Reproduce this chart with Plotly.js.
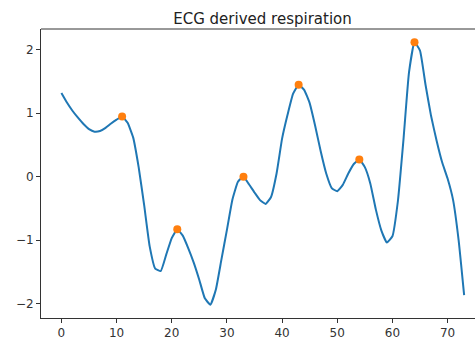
<!DOCTYPE html>
<html>
<head>
<meta charset="utf-8">
<script src="https://cdn.plot.ly/plotly-3.0.1.min.js"></script>
<style>
html, body { margin: 0; padding: 0; overflow: hidden; background: #fff; width: 475px; height: 344px; }
#chart { width: 490px; height: 344px; }
</style>
</head>
<body>
<div id="chart"></div>
<script>
// Sample index (0..73) and respiration signal values
var sampleIdx = [];
for (var i = 0; i <= 73; i++) sampleIdx.push(i);
var respValues = [
  1.32, 1.17, 1.04, 0.93, 0.83, 0.75, 0.71, 0.72, 0.77, 0.84,
  0.90, 0.95, 0.85, 0.62, 0.15, -0.45, -1.10, -1.45, -1.49, -1.23,
  -0.97, -0.83, -0.93, -1.13, -1.36, -1.63, -1.92, -2.02, -1.78, -1.31,
  -0.84, -0.36, -0.08, 0.00, -0.12, -0.25, -0.37, -0.43, -0.32, 0.05,
  0.60, 0.98, 1.31, 1.45, 1.37, 1.16, 0.80, 0.40, 0.05, -0.18,
  -0.23, -0.13, 0.05, 0.20, 0.27, 0.15, -0.11, -0.52, -0.85, -1.04,
  -0.94, -0.38, 0.58, 1.64, 2.12, 1.99, 1.45, 0.96, 0.57, 0.23,
  -0.03, -0.37, -1.00, -1.87
];
// Detected peak indices
var peakIdx = [11, 21, 33, 43, 54, 64];
var peakValues = peakIdx.map(function (k) { return respValues[k]; });

var xTicks = [0, 10, 20, 30, 40, 50, 60, 70];
var yTicks = [-2, -1, 0, 1, 2];

var traces = [
  {
    x: sampleIdx, y: respValues, type: 'scatter', mode: 'lines',
    line: { color: '#1f77b4', width: 2, shape: 'spline', smoothing: 0.4 }, hoverinfo: 'skip'
  },
  {
    x: peakIdx, y: peakValues, type: 'scatter', mode: 'markers',
    marker: { color: '#ff7f0e', size: 8 }, hoverinfo: 'skip'
  }
];

var axisCommon = {
  showgrid: false, zeroline: false, showline: true,
  linecolor: '#333', linewidth: 1,
  ticks: 'outside', ticklen: 4, tickwidth: 1, tickcolor: '#333',
  tickfont: { family: 'DejaVu Sans', size: 12, color: '#333' }
};

var layout = {
  width: 490, height: 344,
  margin: { l: 41, r: 6, t: 29, b: 26, pad: 0 },
  paper_bgcolor: '#fff', plot_bgcolor: '#fff',
  showlegend: false,
  title: {
    text: 'ECG derived respiration',
    font: { family: 'DejaVu Sans', size: 15, color: '#222' },
    x: 0.5, xref: 'paper', y: 1, yref: 'paper', yanchor: 'bottom', pad: { b: 5 }
  },
  xaxis: Object.assign({}, axisCommon, {
    range: [-3.7, 76.6], tickvals: xTicks, ticktext: xTicks.map(String),
    mirror: false
  }),
  yaxis: Object.assign({}, axisCommon, {
    range: [-2.23, 2.33], tickvals: yTicks,
    ticktext: yTicks.map(function (v) { return v < 0 ? '\u2212' + Math.abs(v) : String(v); })
  }),
  shapes: [
    { type: 'line', xref: 'paper', yref: 'paper', x0: 0, x1: 1, y0: 1, y1: 1,
      line: { color: '#333', width: 1 } }
  ]
};

Plotly.newPlot('chart', traces, layout, { staticPlot: true, displayModeBar: false });
</script>
</body>
</html>
